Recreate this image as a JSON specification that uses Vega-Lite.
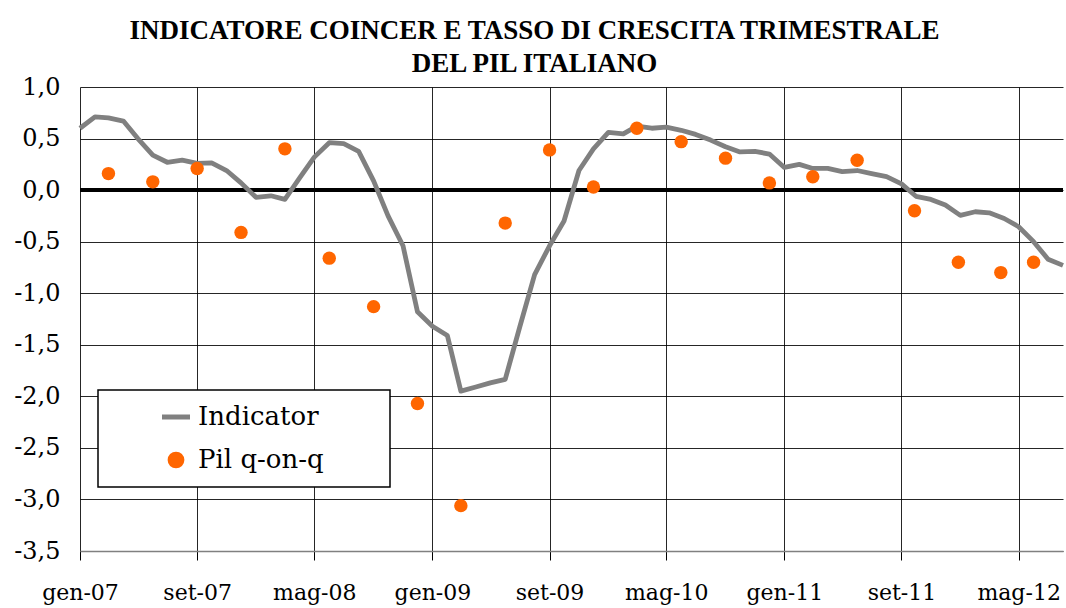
{
  "$schema": "https://vega.github.io/schema/vega-lite/v6.json",
  "width": 983,
  "height": 464,
  "autosize": {"type": "none"},
  "padding": {"left": 80, "top": 87, "right": 3, "bottom": 57},
  "background": "white",
  "title": {
    "text": ["INDICATORE COINCER E TASSO DI CRESCITA TRIMESTRALE", "DEL PIL ITALIANO"],
    "font": "Liberation Serif",
    "fontSize": 27,
    "fontWeight": "bold",
    "color": "#000000",
    "lineHeight": 33,
    "anchor": "middle",
    "frame": "group",
    "dx": -37,
    "dy": 13,
    "offset": 10
  },
  "datasets": {
    "ind": [
      {"date": "2007-01-01", "value": 0.60}, {"date": "2007-02-01", "value": 0.71}, {"date": "2007-03-01", "value": 0.70}, {"date": "2007-04-01", "value": 0.67},
      {"date": "2007-05-01", "value": 0.50}, {"date": "2007-06-01", "value": 0.34}, {"date": "2007-07-01", "value": 0.27}, {"date": "2007-08-01", "value": 0.29},
      {"date": "2007-09-01", "value": 0.26}, {"date": "2007-10-01", "value": 0.265}, {"date": "2007-11-01", "value": 0.19}, {"date": "2007-12-01", "value": 0.07},
      {"date": "2008-01-01", "value": -0.07}, {"date": "2008-02-01", "value": -0.055}, {"date": "2008-03-01", "value": -0.09}, {"date": "2008-04-01", "value": 0.12},
      {"date": "2008-05-01", "value": 0.32}, {"date": "2008-06-01", "value": 0.46}, {"date": "2008-07-01", "value": 0.45}, {"date": "2008-08-01", "value": 0.375},
      {"date": "2008-09-01", "value": 0.09}, {"date": "2008-10-01", "value": -0.25}, {"date": "2008-11-01", "value": -0.54}, {"date": "2008-12-01", "value": -1.18},
      {"date": "2009-01-01", "value": -1.32}, {"date": "2009-02-01", "value": -1.41}, {"date": "2009-03-01", "value": -1.95}, {"date": "2009-04-01", "value": -1.91},
      {"date": "2009-05-01", "value": -1.87}, {"date": "2009-06-01", "value": -1.835}, {"date": "2009-07-01", "value": -1.33}, {"date": "2009-08-01", "value": -0.82},
      {"date": "2009-09-01", "value": -0.54}, {"date": "2009-10-01", "value": -0.30}, {"date": "2009-11-01", "value": 0.19}, {"date": "2009-12-01", "value": 0.40},
      {"date": "2010-01-01", "value": 0.56}, {"date": "2010-02-01", "value": 0.545}, {"date": "2010-03-01", "value": 0.62}, {"date": "2010-04-01", "value": 0.60},
      {"date": "2010-05-01", "value": 0.61}, {"date": "2010-06-01", "value": 0.58}, {"date": "2010-07-01", "value": 0.54}, {"date": "2010-08-01", "value": 0.485},
      {"date": "2010-09-01", "value": 0.42}, {"date": "2010-10-01", "value": 0.37}, {"date": "2010-11-01", "value": 0.375}, {"date": "2010-12-01", "value": 0.35},
      {"date": "2011-01-01", "value": 0.22}, {"date": "2011-02-01", "value": 0.25}, {"date": "2011-03-01", "value": 0.21}, {"date": "2011-04-01", "value": 0.21},
      {"date": "2011-05-01", "value": 0.18}, {"date": "2011-06-01", "value": 0.19}, {"date": "2011-07-01", "value": 0.16}, {"date": "2011-08-01", "value": 0.13},
      {"date": "2011-09-01", "value": 0.06}, {"date": "2011-10-01", "value": -0.06}, {"date": "2011-11-01", "value": -0.09}, {"date": "2011-12-01", "value": -0.145},
      {"date": "2012-01-01", "value": -0.245}, {"date": "2012-02-01", "value": -0.21}, {"date": "2012-03-01", "value": -0.22}, {"date": "2012-04-01", "value": -0.275},
      {"date": "2012-05-01", "value": -0.355}, {"date": "2012-06-01", "value": -0.50}, {"date": "2012-07-01", "value": -0.67}, {"date": "2012-08-01", "value": -0.73}
    ],
    "pil": [
      {"date": "2007-03-01", "value": 0.16}, {"date": "2007-06-01", "value": 0.08}, {"date": "2007-09-01", "value": 0.21}, {"date": "2007-12-01", "value": -0.41},
      {"date": "2008-03-01", "value": 0.40}, {"date": "2008-06-01", "value": -0.66}, {"date": "2008-09-01", "value": -1.13}, {"date": "2008-12-01", "value": -2.07},
      {"date": "2009-03-01", "value": -3.06}, {"date": "2009-06-01", "value": -0.32}, {"date": "2009-09-01", "value": 0.39}, {"date": "2009-12-01", "value": 0.03},
      {"date": "2010-03-01", "value": 0.60}, {"date": "2010-06-01", "value": 0.47}, {"date": "2010-09-01", "value": 0.31}, {"date": "2010-12-01", "value": 0.07},
      {"date": "2011-03-01", "value": 0.13}, {"date": "2011-06-01", "value": 0.29}, {"date": "2011-09-28", "value": -0.20}, {"date": "2011-12-28", "value": -0.70},
      {"date": "2012-03-25", "value": -0.80}, {"date": "2012-06-01", "value": -0.70}
    ],
    "zero": [{"level": 0}]
  },
  "layer": [
    {
      "data": {"name": "zero"},
      "mark": {"type": "rule", "color": "#000000", "strokeWidth": 4},
      "encoding": {
        "y": {"field": "level", "type": "quantitative", "title": null, "scale": {"domain": [-3.5, 1.0], "nice": false, "zero": false}}
      }
    },
    {
      "data": {"name": "ind"},
      "mark": {"type": "line", "strokeWidth": 4.8, "strokeJoin": "round"},
      "encoding": {
        "x": {
          "field": "date", "type": "temporal", "title": null,
          "scale": {"type": "utc", "domain": [{"year": 2007, "month": 1, "date": 1, "utc": true}, {"year": 2012, "month": 8, "date": 1, "utc": true}], "nice": false},
          "axis": {
            "values": [
              {"year": 2007, "month": 1, "date": 1, "utc": true}, {"year": 2007, "month": 9, "date": 1, "utc": true},
              {"year": 2008, "month": 5, "date": 1, "utc": true}, {"year": 2009, "month": 1, "date": 1, "utc": true},
              {"year": 2009, "month": 9, "date": 1, "utc": true}, {"year": 2010, "month": 5, "date": 1, "utc": true},
              {"year": 2011, "month": 1, "date": 1, "utc": true}, {"year": 2011, "month": 9, "date": 1, "utc": true},
              {"year": 2012, "month": 5, "date": 1, "utc": true}
            ],
            "labelExpr": "['gen','feb','mar','apr','mag','giu','lug','ago','set','ott','nov','dic'][utcmonth(datum.value)] + '-' + utcFormat(datum.value, '%y')",
            "grid": true,
            "tickSize": 9,
            "labelFontSize": 22,
            "labelPadding": 22,
            "labelOverlap": false,
            "labelFlush": false,
            "domain": true,
            "domainColor": "#808080",
            "domainWidth": 1.5
          }
        },
        "y": {
          "field": "value", "type": "quantitative", "title": null,
          "scale": {"domain": [-3.5, 1.0], "nice": false, "zero": false},
          "axis": {
            "values": [1.0, 0.5, 0.0, -0.5, -1.0, -1.5, -2.0, -2.5, -3.0, -3.5],
            "labelExpr": "(datum.value < 0 ? '-' : '') + replace(format(abs(datum.value), '.1f'), '.', ',')",
            "grid": true,
            "ticks": false,
            "domain": false,
            "labelFontSize": 24,
            "labelPadding": 20,
            "labelOverlap": false
          }
        },
        "color": {
          "datum": "Indicator", "type": "nominal",
          "scale": {"domain": ["Indicator", "Pil q-on-q"], "range": ["#808080", "#ff6600"]},
          "legend": {
            "title": "\u00a0",
            "titleOrient": "right",
            "titlePadding": 52,
            "titleFontSize": 4,
            "orient": "none",
            "legendX": 18,
            "legendY": 303,
            "direction": "vertical",
            "strokeColor": "#000000",
            "fillColor": "#ffffff",
            "padding": 14,
            "symbolSize": 784,
            "symbolOffset": 51,
            "labelOffset": 9,
            "rowPadding": 17,
            "labelFont": "DejaVu Serif",
            "labelFontSize": 26,
            "labelColor": "#000000",
            "labelLimit": 500,
            "encode": {
              "symbols": {
                "update": {
                  "shape": {"signal": "datum.value === 'Indicator' ? 'stroke' : 'circle'"},
                  "size": {"signal": "datum.value === 'Indicator' ? 784 : 280"},
                  "fill": {"signal": "datum.value === 'Indicator' ? 'transparent' : '#ff6600'"},
                  "stroke": {"signal": "datum.value === 'Indicator' ? '#808080' : 'transparent'"},
                  "strokeWidth": {"signal": "datum.value === 'Indicator' ? 5 : 0"},
                  "opacity": {"value": 1}
                }
              },
              "legend": {
                "update": {"strokeWidth": {"value": 1.5}}
              }
            }
          }
        }
      }
    },
    {
      "data": {"name": "pil"},
      "mark": {"type": "point", "filled": true, "size": 180, "opacity": 1, "shape": "circle"},
      "encoding": {
        "x": {"field": "date", "type": "temporal", "title": null, "scale": {"type": "utc", "domain": [{"year": 2007, "month": 1, "date": 1, "utc": true}, {"year": 2012, "month": 8, "date": 1, "utc": true}], "nice": false}},
        "y": {"field": "value", "type": "quantitative", "title": null, "scale": {"domain": [-3.5, 1.0], "nice": false, "zero": false}},
        "color": {"datum": "Pil q-on-q", "type": "nominal"}
      }
    }
  ],
  "config": {
    "view": {"stroke": null},
    "axis": {
      "labelFont": "DejaVu Serif",
      "labelColor": "#000000",
      "gridColor": "#000000",
      "gridWidth": 1,
      "gridOpacity": 0.85,
      "tickColor": "#000000",
      "tickWidth": 1
    }
  }
}
